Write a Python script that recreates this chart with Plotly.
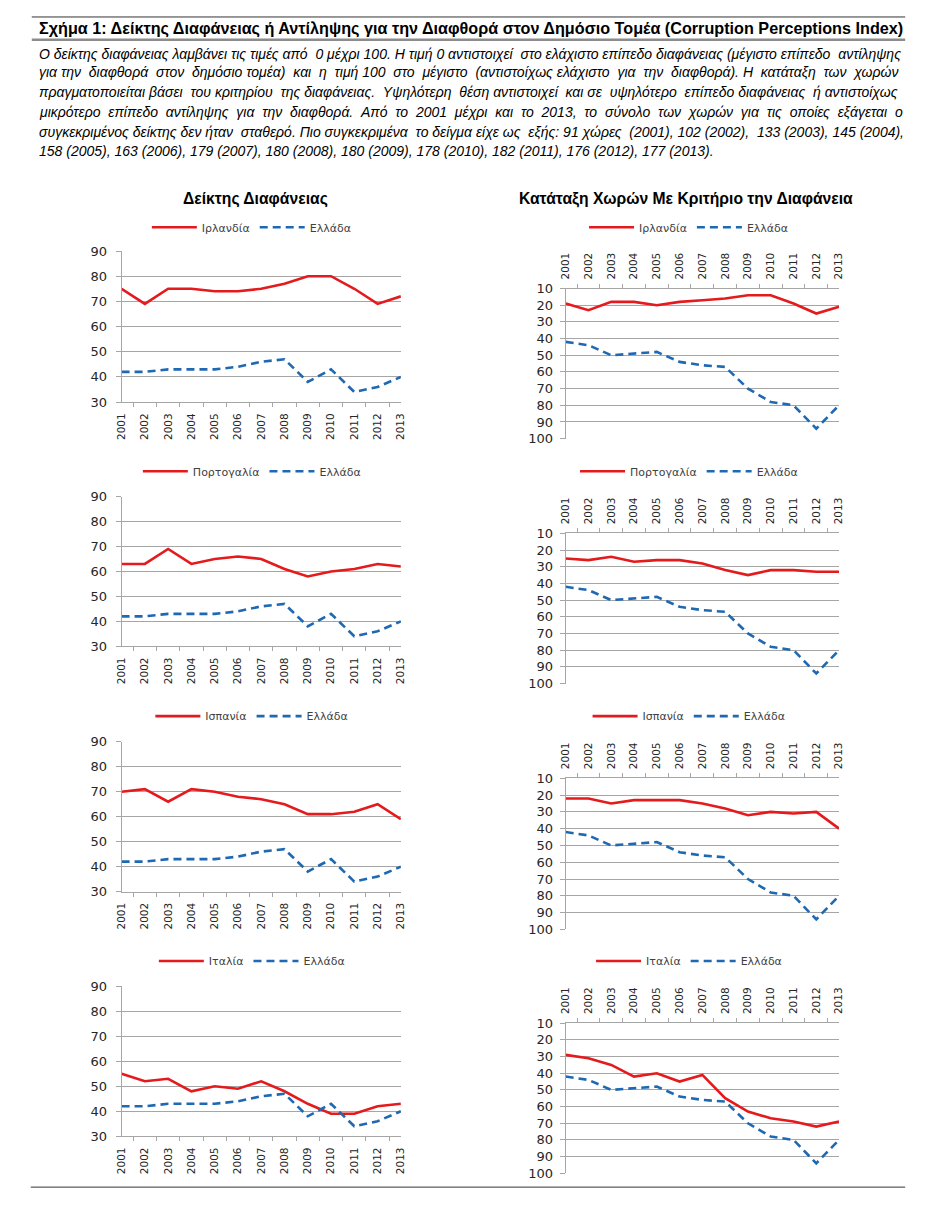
import plotly.graph_objects as go

# ---------------- data ----------------
years = [str(y) for y in range(2001, 2014)]

greece_cpi = [42, 42, 43, 43, 43, 44, 46, 47, 38, 43, 34, 36, 40]
greece_rank = [42, 44, 50, 49, 48, 54, 56, 57, 70, 78, 80, 94, 80]

ireland_cpi = [75, 69, 75, 75, 74, 74, 75, 77, 80, 80, 75, 69, 72]
ireland_rank = [19, 23, 18, 18, 20, 18, 17, 16, 14, 14, 19, 25, 21]

portugal_cpi = [63, 63, 69, 63, 65, 66, 65, 61, 58, 60, 61, 63, 62]
portugal_rank = [25, 26, 24, 27, 26, 26, 28, 32, 35, 32, 32, 33, 33]

spain_cpi = [70, 71, 66, 71, 70, 68, 67, 65, 61, 61, 62, 65, 59]
spain_rank = [22, 22, 25, 23, 23, 23, 25, 28, 32, 30, 31, 30, 40]

italy_cpi = [55, 52, 53, 48, 50, 49, 52, 48, 43, 39, 39, 42, 43]
italy_rank = [29, 31, 35, 42, 40, 45, 41, 55, 63, 67, 69, 72, 69]

country_names = ["Ιρλανδία", "Πορτογαλία", "Ισπανία", "Ιταλία"]
country_cpi = [ireland_cpi, portugal_cpi, spain_cpi, italy_cpi]
country_rank = [ireland_rank, portugal_rank, spain_rank, italy_rank]
greece_name = "Ελλάδα"

cpi_ticks = [30, 40, 50, 60, 70, 80, 90]
rank_ticks = [10, 20, 30, 40, 50, 60, 70, 80, 90, 100]

header_title = ("Σχήμα 1: Δείκτης Διαφάνειας ή Αντίληψης για την Διαφθορά στον "
                "Δημόσιο Τομέα (Corruption Perceptions Index)")
header_lines = [
    "Ο δείκτης διαφάνειας λαμβάνει τις τιμές από 0 μέχρι 100. Η τιμή 0 αντιστοιχεί στο ελάχιστο επίπεδο διαφάνειας (μέγιστο επίπεδο αντίληψης",
    "για την διαφθορά στον δημόσιο τομέα) και η τιμή 100 στο μέγιστο (αντιστοίχως ελάχιστο για την διαφθορά). Η κατάταξη των χωρών",
    "πραγματοποιείται βάσει του κριτηρίου της διαφάνειας. Υψηλότερη θέση αντιστοιχεί και σε υψηλότερο επίπεδο διαφάνειας ή αντιστοίχως",
    "μικρότερο επίπεδο αντίληψης για την διαφθορά. Από το 2001 μέχρι και το 2013, το σύνολο των χωρών για τις οποίες εξάγεται ο",
    "συγκεκριμένος δείκτης δεν ήταν σταθερό. Πιο συγκεκριμένα το δείγμα είχε ως εξής: 91 χώρες (2001), 102 (2002), 133 (2003), 145 (2004),",
    "158 (2005), 163 (2006), 179 (2007), 180 (2008), 180 (2009), 178 (2010), 182 (2011), 176 (2012), 177 (2013).",
]
justified = [True, True, True, True, True, False]
left_title = "Δείκτης Διαφάνειας"
right_title = "Κατάταξη Χωρών Με Κριτήριο την Διαφάνεια"

# ---------------- geometry (page pixels) ----------------
PAGE_W, PAGE_H = 932, 1212
OFF = 8  # default body margin of the page
W, H = PAGE_W - 2 * OFF, PAGE_H - 2 * OFF
left_x = (116, 399)
right_x = (566, 843)
left_rows = [(247, 400), (495.7, 647.3), (744, 895.7), (991.7, 1143.5)]
right_rows = [(285, 437), (533, 685), (781, 934), (1029, 1181)]
legend_y = [223, 470, 718, 966]
left_leg_cx = 248
right_leg_cx = 691
TEXT_X0, TEXT_X1 = 33, 911
PARA_SIZE = 14.0


def px(x):
    return (x - OFF) / W


def py(y):
    return 1 - (y - OFF) / H


# approximate Arial / Liberation Sans advance widths (em) for justifying text
_CW = {" ": .278, "\u00a0": .278, "(": .333, ")": .333, ",": .278, ".": .278, ":": .278}
for ch in "0123456789":
    _CW[ch] = .556
_CW.update({"α": .578, "ά": .578, "β": .575, "γ": .5, "δ": .557, "ε": .446, "έ": .446,
            "ζ": .441, "η": .556, "ή": .556, "θ": .556, "ι": .222, "ί": .222, "κ": .5,
            "λ": .5, "μ": .576, "ν": .5, "ξ": .448, "ο": .556, "ό": .556, "π": .686,
            "ρ": .57, "σ": .618, "ς": .485, "τ": .43, "υ": .548, "ύ": .548, "φ": .65,
            "χ": .5, "ψ": .725, "ω": .778, "ώ": .778, "Ο": .778, "Η": .722, "Υ": .667,
            "Α": .667, "Π": .722})


def text_width(t, size):
    return sum(_CW.get(c, .556) for c in t) * size


def justify(text, size, target):
    words = text.split(" ")
    gaps = len(words) - 1
    slack = target - text_width(text, size)
    n_extra = int(slack / (0.278 * size))
    if n_extra <= 0 or gaps <= 0:
        return text
    out = words[0]
    acc = 0.0
    step = n_extra / gaps
    for w in words[1:]:
        acc += step
        k = int(acc)
        acc -= k
        out += " " + "\u00a0" * k + w
    return out


RED = "#E41A1C"
BLUE = "#1F69B3"
GRID = "#A6A6A6"
TXT = "#262626"
TICKFONT = dict(family="DejaVu Sans", size=13, color=TXT)
YEARFONT = dict(family="DejaVu Sans", size=10.5, color=TXT)

fig = go.Figure()
layout = dict()

n = 0
for r in range(4):
    for side in ("left", "right"):
        n += 1
        sfx = "" if n == 1 else str(n)
        leg = "legend" if n == 1 else f"legend{n}"
        if side == "left":
            red_vals, blue_vals = country_cpi[r], greece_cpi
            xd, (yt, yb) = left_x, left_rows[r]
            cx = left_leg_cx
        else:
            red_vals, blue_vals = country_rank[r], greece_rank
            xd, (yt, yb) = right_x, right_rows[r]
            cx = right_leg_cx
        fig.add_trace(go.Scatter(
            x=years, y=red_vals, name=country_names[r], mode="lines",
            line=dict(color=RED, width=2.6), xaxis=f"x{sfx}", yaxis=f"y{sfx}",
            legend=leg))
        fig.add_trace(go.Scatter(
            x=years, y=blue_vals, name=greece_name, mode="lines",
            line=dict(color=BLUE, width=2.6, dash="8px,5px"),
            xaxis=f"x{sfx}", yaxis=f"y{sfx}", legend=leg))

        layout[f"xaxis{sfx}"] = dict(
            domain=[px(xd[0]), px(xd[1])], anchor=f"y{sfx}", type="category",
            side="bottom" if side == "left" else "top",
            showgrid=False, showline=True, linecolor=GRID, linewidth=1,
            ticks="outside", tickson="boundaries", ticklen=4, tickcolor=GRID,
            tickangle=-90, tickfont=YEARFONT, ticklabelstandoff=6,
            fixedrange=True)
        if side == "left":
            yaxis = dict(range=[30, 90], tickvals=cpi_ticks)
        else:
            yaxis = dict(range=[100, 10], tickvals=rank_ticks)
        yaxis.update(
            domain=[py(yb), py(yt)], anchor=f"x{sfx}",
            showgrid=True, gridcolor=GRID, gridwidth=1,
            showline=True, linecolor=GRID, linewidth=1,
            ticks="outside", ticklen=5, tickcolor=GRID,
            tickfont=TICKFONT, ticklabelstandoff=6 if side == "left" else 4,
            zeroline=False, fixedrange=True)
        layout[f"yaxis{sfx}"] = yaxis
        layout[leg] = dict(
            orientation="h", x=px(cx), xanchor="center",
            y=py(legend_y[r]), yanchor="middle",
            font=dict(family="DejaVu Sans", size=11, color="#404040"),
            itemwidth=45, bgcolor="rgba(0,0,0,0)", tracegroupgap=0)

annotations = []
annotations.append(dict(
    text=f"<b>{header_title}</b>", x=px(TEXT_X0 - 3), y=py(22), xref="paper", yref="paper",
    xanchor="left", yanchor="middle", showarrow=False,
    font=dict(family="Liberation Sans", size=16.2, color="#000")))
line_y = [47, 66, 86, 106, 126, 146]
for t, yy, jf in zip(header_lines, line_y, justified):
    txt = justify(t, PARA_SIZE, TEXT_X1 - TEXT_X0) if jf else t
    annotations.append(dict(
        text=f"<i>{txt}</i>", x=px(TEXT_X0 - 3), y=py(yy), xref="paper", yref="paper",
        xanchor="left", yanchor="middle", showarrow=False,
        font=dict(family="Liberation Sans", size=PARA_SIZE, color="#000")))
annotations.append(dict(
    text=f"<b>{left_title}</b>", x=px(252), y=py(194), xref="paper", yref="paper",
    xanchor="center", yanchor="middle", showarrow=False,
    font=dict(family="Liberation Sans", size=15.7, color="#000")))
annotations.append(dict(
    text=f"<b>{right_title}</b>", x=px(688), y=py(194), xref="paper", yref="paper",
    xanchor="center", yanchor="middle", showarrow=False,
    font=dict(family="Liberation Sans", size=15.7, color="#000")))

shapes = [
    dict(type="line", xref="paper", yref="paper", x0=px(25), x1=px(910),
         y0=py(10), y1=py(10), line=dict(color="#333", width=1)),
    dict(type="line", xref="paper", yref="paper", x0=px(25), x1=px(910),
         y0=py(33), y1=py(33), line=dict(color="#8C8C8C", width=2.5)),
    dict(type="line", xref="paper", yref="paper", x0=px(24), x1=px(910),
         y0=py(1195), y1=py(1195), line=dict(color="#333", width=1)),
]

fig.update_layout(
    width=W, height=H, autosize=False,
    margin=dict(l=0, r=0, t=0, b=0, pad=0),
    paper_bgcolor="white", plot_bgcolor="white",
    annotations=annotations, shapes=shapes,
    **layout)

fig.write_html("out.html", config={"displayModeBar": False})
